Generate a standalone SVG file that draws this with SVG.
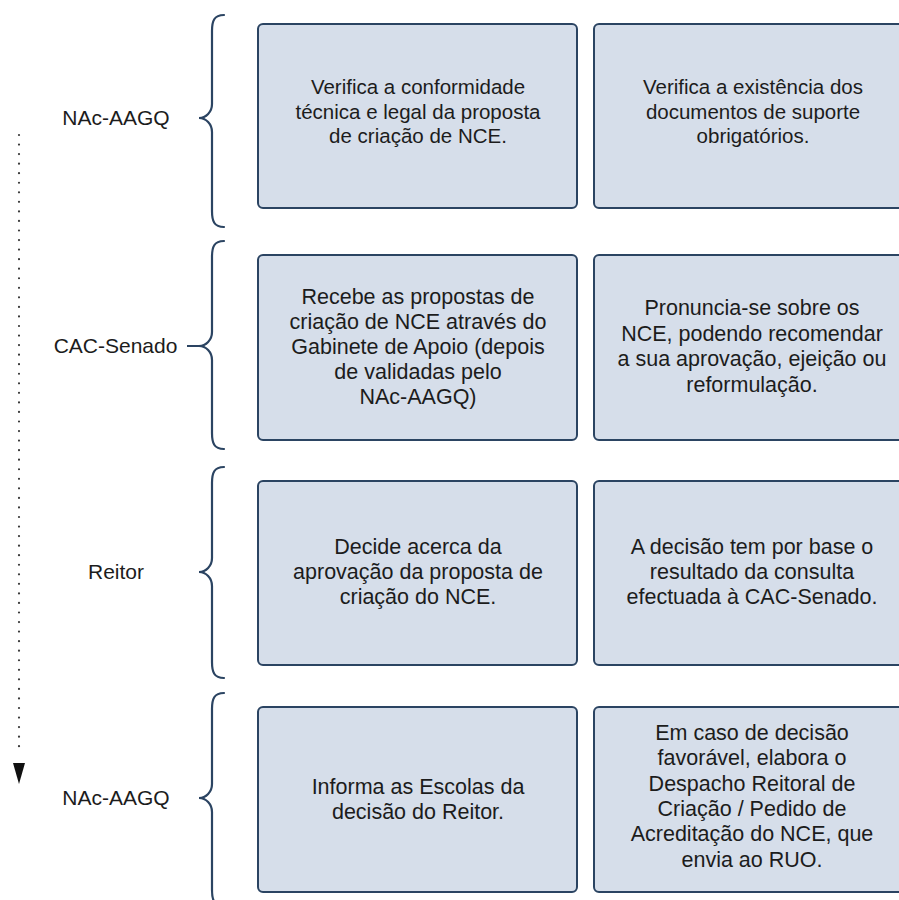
<svg xmlns="http://www.w3.org/2000/svg" width="899" height="900" viewBox="0 0 899 900">
<style>
.box{fill:#d6deea;stroke:#2b4462;stroke-width:2}
.t{font-family:"Liberation Sans",Arial,sans-serif;font-size:21.5px;fill:#1c1c1c;text-anchor:middle}
.t1{font-size:20.5px}
.lbl{font-family:"Liberation Sans",Arial,sans-serif;font-size:21px;fill:#1c1c1c;text-anchor:middle}
.brace{fill:none;stroke:#2b4462;stroke-width:2.2;stroke-linecap:round}
</style>
<rect width="899" height="900" fill="#ffffff"/>

<g id="connectors">
  <line x1="19" y1="135" x2="19" y2="755" stroke="#3a3a3a" stroke-width="2.2" stroke-linecap="round" stroke-dasharray="0 9.55"/>
  <polygon points="13,763 25,763 19,784" fill="#111"/>
  <path class="brace" d="M224,15 C214,15 212,21 212,31 L212,104 C212,112 206,118 199,118 C206,118 212,124 212,132 L212,211 C212,221 214,227 224,227"/>
  <path class="brace" d="M224,241 C214,241 212,247 212,257 L212,332 C212,340 206,346 199,346 C206,346 212,352 212,360 L212,433 C212,443 214,449 224,449"/>
  <line x1="187" y1="346" x2="200" y2="346" stroke="#2b4462" stroke-width="2"/>
  <path class="brace" d="M224,467 C214,467 212,473 212,483 L212,558 C212,566 206,572 199,572 C206,572 212,578 212,586 L212,662 C212,672 214,678 224,678"/>
  <path class="brace" d="M224,693 C214,693 212,699 212,709 L212,784 C212,792 206,798 199,798 C206,798 212,804 212,812 L212,890 C212,900 214,906 224,906"/>
</g>

<g id="label-nac1"><text class="lbl" x="116" y="125">NAc-AAGQ</text></g>
<g id="label-cac"><text class="lbl" x="115.5" y="353">CAC-Senado</text></g>
<g id="label-reitor"><text class="lbl" x="116" y="579">Reitor</text></g>
<g id="label-nac2"><text class="lbl" x="116" y="805">NAc-AAGQ</text></g>

<g id="box-1a">
  <rect class="box" x="258" y="24" width="319" height="184" rx="5"/>
  <text class="t t1" x="418" y="94">Verifica a conformidade</text>
  <text class="t t1" x="418" y="118.5">técnica e legal da proposta</text>
  <text class="t t1" x="418" y="143">de criação de NCE.</text>
</g>
<g id="box-1b">
  <rect class="box" x="594" y="24" width="318" height="184" rx="5"/>
  <text class="t t1" x="753" y="94">Verifica a existência dos</text>
  <text class="t t1" x="753" y="118.5">documentos de suporte</text>
  <text class="t t1" x="753" y="143">obrigatórios.</text>
</g>

<g id="box-2a">
  <rect class="box" x="258" y="255" width="319" height="185" rx="5"/>
  <text class="t" x="418" y="304">Recebe as propostas de</text>
  <text class="t" x="418" y="329">criação de NCE através do</text>
  <text class="t" x="418" y="354">Gabinete de Apoio (depois</text>
  <text class="t" x="418" y="379">de validadas pelo</text>
  <text class="t" x="418" y="404">NAc-AAGQ)</text>
</g>
<g id="box-2b">
  <rect class="box" x="594" y="255" width="318" height="185" rx="5"/>
  <text class="t" x="752" y="315">Pronuncia-se sobre os</text>
  <text class="t" x="752" y="340.5">NCE, podendo recomendar</text>
  <text class="t" x="752" y="366">a sua aprovação, ejeição ou</text>
  <text class="t" x="752" y="391.5">reformulação.</text>
</g>

<g id="box-3a">
  <rect class="box" x="258" y="481" width="319" height="184" rx="5"/>
  <text class="t" x="418" y="554">Decide acerca da</text>
  <text class="t" x="418" y="579">aprovação da proposta de</text>
  <text class="t" x="418" y="604">criação do NCE.</text>
</g>
<g id="box-3b">
  <rect class="box" x="594" y="481" width="318" height="184" rx="5"/>
  <text class="t" x="752" y="554">A decisão tem por base o</text>
  <text class="t" x="752" y="579">resultado da consulta</text>
  <text class="t" x="752" y="604">efectuada à CAC-Senado.</text>
</g>

<g id="box-4a">
  <rect class="box" x="258" y="707" width="319" height="185" rx="5"/>
  <text class="t" x="418" y="794">Informa as Escolas da</text>
  <text class="t" x="418" y="819">decisão do Reitor.</text>
</g>
<g id="box-4b">
  <rect class="box" x="594" y="707" width="318" height="185" rx="5"/>
  <text class="t" x="752" y="740">Em caso de decisão</text>
  <text class="t" x="752" y="765.3">favorável, elabora o</text>
  <text class="t" x="752" y="790.6">Despacho Reitoral de</text>
  <text class="t" x="752" y="816">Criação / Pedido de</text>
  <text class="t" x="752" y="841.3">Acreditação do NCE, que</text>
  <text class="t" x="752" y="866.6">envia ao RUO.</text>
</g>
</svg>
